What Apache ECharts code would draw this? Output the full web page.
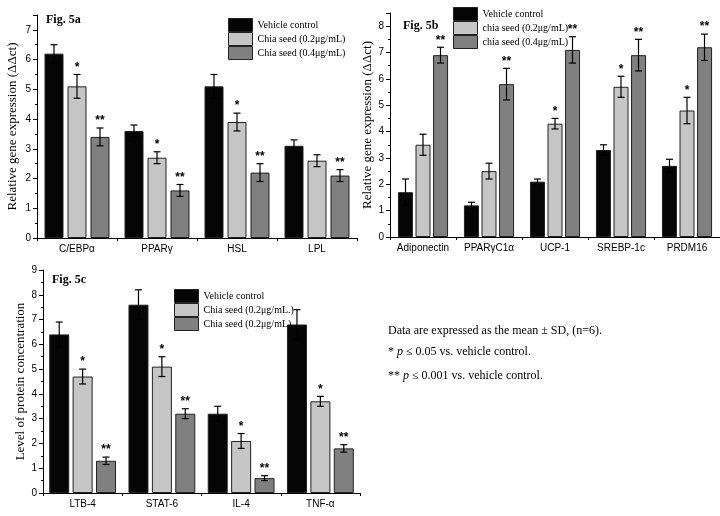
<!DOCTYPE html>
<html>
<head>
<meta charset="utf-8">
<script src="https://cdn.jsdelivr.net/npm/echarts@6/dist/echarts.min.js"></script>
<style>
  html, body { margin: 0; padding: 0; background: #fff; }
  #chart { width: 720px; height: 516px; }
</style>
</head>
<body>
<div id="chart"></div>
<script>
// Fig. 5a - gene expression
const catsA = ['C/EBPα', 'PPARγ', 'HSL', 'LPL'];
const vehA = [6.2, 3.6, 5.1, 3.1];
const vehAErr = [0.3, 0.2, 0.4, 0.2];
const lowA = [5.1, 2.7, 3.9, 2.6];
const lowAErr = [0.4, 0.2, 0.3, 0.2];
const highA = [3.4, 1.6, 2.2, 2.1];
const highAErr = [0.3, 0.2, 0.3, 0.2];
const lowAStars = ['*', '*', '*', ''];
const highAStars = ['**', '**', '**', '**'];

// Fig. 5b - browning markers
const catsB = ['Adiponectin', 'PPARγC1α', 'UCP-1', 'SREBP-1c', 'PRDM16'];
const vehB = [1.7, 1.2, 2.1, 3.3, 2.7];
const vehBErr = [0.5, 0.12, 0.1, 0.2, 0.25];
const lowB = [3.5, 2.5, 4.3, 5.7, 4.8];
const lowBErr = [0.4, 0.3, 0.2, 0.4, 0.5];
const highB = [6.9, 5.8, 7.1, 6.9, 7.2];
const highBErr = [0.3, 0.6, 0.5, 0.6, 0.5];
const lowBStars = ['', '', '*', '*', '*'];
const highBStars = ['**', '**', '**', '**', '**'];

// Fig. 5c - protein levels
const catsC = ['LTB-4', 'STAT-6', 'IL-4', 'TNF-α'];
const vehC = [6.4, 7.6, 3.2, 6.8];
const vehCErr = [0.5, 0.6, 0.3, 0.6];
const lowC = [4.7, 5.1, 2.1, 3.7];
const lowCErr = [0.3, 0.4, 0.3, 0.2];
const highC = [1.3, 3.2, 0.6, 1.8];
const highCErr = [0.15, 0.2, 0.1, 0.15];
const lowCStars = ['*', '*', '*', '*'];
const highCStars = ['**', '**', '**', '**'];

const BLACK = '#050505';
const LIGHT = '#c6c6c6';
const DARK = '#808080';
const SERIF = 'Liberation Serif';
const SANS = 'Liberation Sans';

var myChart = echarts.init(document.getElementById('chart'));

function barSeries(name, data, color, idx, bw, gap) {
  return {
    type: 'bar',
    name: name,
    data: data,
    xAxisIndex: idx,
    yAxisIndex: idx,
    barWidth: bw,
    barGap: gap,
    itemStyle: { color: color, borderColor: '#222', borderWidth: 1 },
    emphasis: { disabled: true }
  };
}

// one custom series per panel: error bars + significance stars
function errorSeries(idx, groups, step) {
  const data = [];
  const stars = [];
  groups.forEach((g, gi) => {
    g.vals.forEach((v, ci) => {
      data.push([ci, gi, v, g.errs[ci]]);
      stars.push(g.stars ? g.stars[ci] : '');
    });
  });
  return {
    type: 'custom',
    xAxisIndex: idx,
    yAxisIndex: idx,
    z: 5,
    silent: true,
    encode: { x: 0, y: 2 },
    data: data,
    renderItem: function (params, api) {
      const cat = api.value(0), g = api.value(1), v = api.value(2), e = api.value(3);
      const x = api.coord([cat, 0])[0] + (g - 1) * step;
      const yTop = api.coord([cat, v + e])[1];
      const yBot = api.coord([cat, v - e])[1];
      const cap = 3.5;
      const lineStyle = { stroke: '#000', lineWidth: 1.2 };
      const children = [
        { type: 'line', shape: { x1: x, y1: yTop, x2: x, y2: yBot }, style: lineStyle },
        { type: 'line', shape: { x1: x - cap, y1: yTop, x2: x + cap, y2: yTop }, style: lineStyle },
        { type: 'line', shape: { x1: x - cap, y1: yBot, x2: x + cap, y2: yBot }, style: lineStyle }
      ];
      const s = stars[params.dataIndex];
      if (s) {
        children.push({
          type: 'text',
          style: {
            text: s, x: x, y: yTop - 1,
            align: 'center', verticalAlign: 'bottom',
            font: 'bold 12px ' + SANS, fill: '#000'
          }
        });
      }
      return { type: 'group', children: children };
    }
  };
}

function xAxisCfg(idx, cats) {
  return {
    type: 'category', gridIndex: idx, data: cats,
    axisLine: { lineStyle: { color: '#000', width: 1 } },
    axisTick: { show: true, length: 3, lineStyle: { color: '#000' } },
    axisLabel: { color: '#000', fontFamily: SANS, fontSize: 10, margin: 6, interval: 0 }
  };
}

function yAxisCfg(idx, max, name, gap) {
  return {
    type: 'value', gridIndex: idx, min: 0, max: max, interval: 1,
    name: name, nameLocation: 'middle', nameGap: gap, nameRotate: 90,
    nameTextStyle: { fontFamily: SERIF, fontSize: 13, color: '#000' },
    splitLine: { show: false },
    axisLine: { show: true, lineStyle: { color: '#000', width: 1 } },
    axisTick: { show: true, length: 4, lineStyle: { color: '#000' } },
    minorTick: { show: true, splitNumber: 2, length: 2, lineStyle: { color: '#000' } },
    axisLabel: { color: '#000', fontFamily: SANS, fontSize: 10, margin: 6, showMaxLabel: max % 1 === 0 }
  };
}

function legendCfg(left, top, names, colors) {
  return {
    left: left, top: top, orient: 'vertical', padding: 0, z: 10,
    itemWidth: 24, itemHeight: 13, itemGap: 0,
    icon: 'rect', selectedMode: false,
    data: names.map((n, i) => ({ name: n, itemStyle: { color: colors[i], borderColor: '#222', borderWidth: 1 } })),
    textStyle: { fontFamily: SERIF, fontSize: 10, color: '#000' }
  };
}

const namesA = ['Vehicle control', 'Chia seed (0.2μg/mL)', 'Chia seed (0.4μg/mL)'];
const namesB = ['Vehicle control', 'chia seed (0.2μg/mL)', 'chia seed (0.4μg/mL)'];
const namesC = ['Vehicle control', 'Chia seed (0.2μg/mL.)', 'Chia seed (0.2μg/mL)'];
const colors = [BLACK, LIGHT, DARK];

option = {
  animation: false,
  grid: [
    { left: 37, top: 15, right: 363, bottom: 278 },
    { left: 390, top: 13, right: 0, bottom: 279 },
    { left: 43, top: 270, right: 360, bottom: 23 }
  ],
  xAxis: [xAxisCfg(0, catsA), xAxisCfg(1, catsB), xAxisCfg(2, catsC)],
  yAxis: [
    yAxisCfg(0, 7.5, 'Relative gene expression (ΔΔct)', 18),
    yAxisCfg(1, 8.5, 'Relative gene expression (ΔΔct)', 16),
    yAxisCfg(2, 9, 'Level of protein concentration', 14)
  ],
  legend: [
    legendCfg(228, 18, namesA, colors),
    legendCfg(453, 7, namesB, colors),
    legendCfg(174, 289, namesC, colors)
  ],
  series: [
    barSeries(namesA[0], vehA, BLACK, 0, 19, '21%'),
    barSeries(namesA[1], lowA, LIGHT, 0, 19, '21%'),
    barSeries(namesA[2], highA, DARK, 0, 19, '21%'),
    errorSeries(0, [
      { vals: vehA, errs: vehAErr },
      { vals: lowA, errs: lowAErr, stars: lowAStars },
      { vals: highA, errs: highAErr, stars: highAStars }
    ], 23),

    barSeries(namesB[0], vehB, BLACK, 1, 15, '17%'),
    barSeries(namesB[1], lowB, LIGHT, 1, 15, '17%'),
    barSeries(namesB[2], highB, DARK, 1, 15, '17%'),
    errorSeries(1, [
      { vals: vehB, errs: vehBErr },
      { vals: lowB, errs: lowBErr, stars: lowBStars },
      { vals: highB, errs: highBErr, stars: highBStars }
    ], 17.5),

    barSeries(namesC[0], vehC, BLACK, 2, 20, '17%'),
    barSeries(namesC[1], lowC, LIGHT, 2, 20, '17%'),
    barSeries(namesC[2], highC, DARK, 2, 20, '17%'),
    errorSeries(2, [
      { vals: vehC, errs: vehCErr },
      { vals: lowC, errs: lowCErr, stars: lowCStars },
      { vals: highC, errs: highCErr, stars: highCStars }
    ], 23.4)
  ],
  graphic: [
    { type: 'text', left: 46, top: 14, style: { text: 'Fig. 5a', font: 'bold 12px ' + SERIF, fill: '#000' } },
    { type: 'text', left: 403, top: 20, style: { text: 'Fig. 5b', font: 'bold 12px ' + SERIF, fill: '#000' } },
    { type: 'text', left: 52, top: 274, style: { text: 'Fig. 5c', font: 'bold 12px ' + SERIF, fill: '#000' } },
    { type: 'text', left: 388, top: 325, style: { text: 'Data are expressed as the mean ± SD, (n=6).', font: '12px ' + SERIF, fill: '#000' } },
    {
      type: 'text', left: 388, top: 346,
      style: {
        text: '{n|* }{i|p}{n| ≤ 0.05 vs. vehicle control.}', fill: '#000',
        rich: { n: { fontFamily: SERIF, fontSize: 12 }, i: { fontFamily: SERIF, fontSize: 12, fontStyle: 'italic' } }
      }
    },
    {
      type: 'text', left: 388, top: 370,
      style: {
        text: '{n|** }{i|p}{n| ≤ 0.001 vs. vehicle control.}', fill: '#000',
        rich: { n: { fontFamily: SERIF, fontSize: 12 }, i: { fontFamily: SERIF, fontSize: 12, fontStyle: 'italic' } }
      }
    }
  ]
};

myChart.setOption(option);
</script>
</body>
</html>
